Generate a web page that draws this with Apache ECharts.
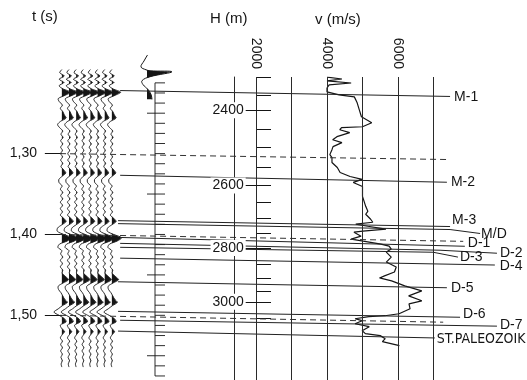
<!DOCTYPE html>
<html><head><meta charset="utf-8">
<script src="https://cdn.jsdelivr.net/npm/echarts@6/dist/echarts.min.js"></script>
<style>html,body{margin:0;padding:0;background:#fff}#c{width:527px;height:380px}</style>
</head><body><div id="c"></div>
<script>
// ================= DATA =================
// time axis (s)
const timeTicks = [1.30, 1.40, 1.50];
// velocity axis (m/s)
const velocityTicks = [2000, 4000, 6000];
const velocityGridLines = [2000, 3000, 4000, 5000, 6000, 7000];
// depth axis (m) and the two-way times at which each depth occurs
const depthLabels = [2400, 2600, 2800, 3000];
const depthLabelTimes = [1.2494, 1.3415, 1.4183, 1.4841];
// 50 m depth ticks (2300 ... 3050 m) in time
const depthMinorTimes = [1.2087, 1.2305, 1.2494, 1.2720, 1.2951, 1.3195, 1.3415, 1.3622,
  1.3817, 1.4000, 1.4183, 1.4378, 1.4549, 1.4707, 1.4841, 1.5049];
// time-scale column next to the wavelet
const scaleTickTimes = [1.2125, 1.225, 1.2375, 1.25, 1.2625, 1.275, 1.2875, 1.30, 1.3125, 1.325,
  1.3375, 1.35, 1.3625, 1.375, 1.3875, 1.40, 1.4125, 1.425, 1.4375, 1.45, 1.4625, 1.475,
  1.4875, 1.50, 1.5125, 1.525, 1.5375, 1.55, 1.5625, 1.575];
const scaleMajorTimes = [1.25, 1.35, 1.45, 1.55];
// velocity log (time s, velocity m/s)
const logTime = [1.2087, 1.2110, 1.2134, 1.2159, 1.2183, 1.2220, 1.2268, 1.2305, 1.2329, 1.2402,
  1.2488, 1.2573, 1.2646, 1.2695, 1.2707, 1.2732, 1.2768, 1.2817, 1.2854, 1.2890,
  1.2939, 1.2976, 1.3037, 1.3073, 1.3134, 1.3195, 1.3256, 1.3305, 1.3341, 1.3378,
  1.3427, 1.3549, 1.3671, 1.3732, 1.3768, 1.3829, 1.3866, 1.3890, 1.3915, 1.3951,
  1.3976, 1.3988, 1.4037, 1.4073, 1.4098, 1.4134, 1.4159, 1.4195, 1.4232, 1.4293,
  1.4354, 1.4415, 1.4476, 1.4524, 1.4549, 1.4585, 1.4646, 1.4707, 1.4768, 1.4829,
  1.4866, 1.4927, 1.4988, 1.5012, 1.5024, 1.5049, 1.5073, 1.5110, 1.5146, 1.5195,
  1.5232, 1.5256, 1.5293, 1.5329, 1.5378];
const logVelocity = [4000, 4420, 4000, 4680, 4060, 4000, 4000, 4340, 4770, 4850,
  4910, 4970, 5260, 5000, 4410, 4360, 4640, 4280, 4160, 4420,
  4170, 4140, 4080, 4140, 4140, 4290, 4370, 4650, 4990, 4740,
  5000, 5000, 5090, 5150, 5090, 5230, 5290, 4810, 5150, 5660,
  5010, 4760, 4960, 4680, 5020, 5520, 5750, 5810, 5670, 5810,
  5670, 5950, 5900, 5620, 5480, 5820, 6190, 6670, 6300, 6670,
  6310, 6340, 6030, 5630, 5180, 4790, 4990, 4790, 5190, 4990,
  5080, 5500, 5640, 5560, 6040];
// seismic trace: sampled every 4 ms from 1.196 s (amplitude in trace spacings)
const TRACE_T0 = 1.196, TRACE_DT = 0.004;
const traceAmp = [0, -0.35, 0.4, -0.45, 0.35, -0.45, 0.2, 1.45, 0.5, -0.6,
  -0.4, 0.1, -0.25, 0.15, 0.4, 0.7, -0.2, -0.7, -0.35, 0.15,
  -0.15, 0.2, -0.2, 0.15, -0.2, 0.1, -0.2, 0.12, -0.2, 0.15,
  -0.15, 0.3, 0.65, 0.05, -0.5, -0.45, 0.05, -0.25, 0.15, -0.2,
  0.15, -0.25, 0.12, -0.25, 0.1, -0.25, 0.3, 0.7, 0.0, -0.7,
  -0.75, 0.3, 1.6, 0.9, -0.4, -0.65, 0.0, -0.2, 0.15, -0.25,
  0.1, -0.25, 0.15, 0.05, 0.6, 1.1, 0.2, -0.6, -0.55, -0.15,
  0.15, 0.45, 0.9, 0.1, -0.6, -1.3, -0.45, 0.4, 0.7, -0.25,
  -0.05, 0.45, 0.05, -0.25, 0.1, -0.2, 0.1, -0.2, 0.08, -0.15,
  0.08, -0.12, 0];
const traceNumbers = [0, 1, 2, 3, 4, 5, 6, 7];
// wavelet
const waveletTime = [1.1780, 1.1854, 1.1927, 1.1963, 1.1976, 1.1988, 1.2049, 1.2098, 1.2146, 1.2207, 1.2268, 1.2329];
const waveletAmp = [0.05, -0.3, -0.6, -0.1, 0.3, 2.5, 0.3, -0.5, -0.4, 0.1, 0.4, 0.5];
// horizons: name, time at section start, time at main end, time at leader end
const horizonNames = ['M-1', 'M-2', 'M-3', 'M/D', 'D-1', 'D-2', 'D-3', 'D-4', 'D-5', 'D-6', 'D-7', 'ST.PALEOZOIK'];
const horizonTimeStart = [1.2220, 1.3268, 1.3829, 1.3866, 1.4037, 1.4110, 1.4159, 1.4293, 1.4585, 1.4951, 1.5061, 1.5195];
const horizonTimeEnd = [1.2293, 1.3354, 1.3902, 1.3939, 1.4146, 1.4195, 1.4220, 1.4378, 1.4659, 1.5024, 1.5134, 1.5280];
const horizonTimeLeader = [null, null, null, 1.3988, null, 1.4232, 1.4280, null, null, null, null, null];
// dashed time lines
const timeLineStart = [1.30, 1.40, 1.50];
const timeLineEnd = [1.3073, 1.4085, 1.5085];

// ================= LAYOUT =================
const FONT = '"Liberation Sans", Arial, Helvetica, sans-serif';
const NARROW = '"Liberation Sans Narrow", "Arial Narrow", "DejaVu Sans Condensed", "Liberation Sans", sans-serif';
const INK = '#151515';
const GRID_TOP = -3.8, GRID_BOTTOM = -1.6;
const T_MIN = 1.11, T_MAX = 1.58;
const PX_PER_S = (380 - GRID_BOTTOM - GRID_TOP) / (T_MAX - T_MIN);
const LOG_TOP = 77;
const LOG_T_MIN = T_MIN + (LOG_TOP - GRID_TOP) / PX_PER_S;
const V_MIN = 1400, V_MAX = 7000, PX_PER_V = 0.0355, V_LEFT = 234.7;
// section x-positions (fraction of width)
const hStart = [0.228, 0.228, 0.224, 0.224, 0.228, 0.228, 0.228, 0.228, 0.224, 0.224, 0.228, 0.224];
const hEnd = [0.854, 0.848, 0.854, 0.854, 0.882, 0.835, 0.822, 0.939, 0.848, 0.873, 0.943, 0.825];
const hLeader = [null, null, null, 0.911, null, 0.943, 0.869, null, null, null, null, null];
const hLabelOffset = [[4, 1], [4, 0], [2, -6], [1, 1], [3, -3], [3, 0], [2, 0], [5, 1], [4, 0], [3, -3], [3, -1], [2, 1]];
const hLabelSize = [14, 14, 14, 14, 14, 14, 14, 14, 14, 14, 14, 14];
const hLabelFont = [FONT, FONT, FONT, FONT, FONT, FONT, FONT, FONT, FONT, FONT, FONT, NARROW];
const tlStart = 0.114, tlEnd = [0.848, 0.879, 0.841];
const TRACE_SCALE = 0.85;

const traceTimes = traceAmp.map((_, k) => TRACE_T0 + k * TRACE_DT);

function wiggle(api, base, times, amps, scale, lw, smooth) {
  const pts = [], polys = [];
  let cur = null;
  for (let k = 0; k < times.length; k++) {
    const a = amps[k];
    const p = api.coord([base + a * scale, times[k]]);
    if (k === 0) {
      if (a > 0) cur = [api.coord([base, times[0]])];
    } else {
      const a0 = amps[k - 1];
      if ((a0 > 0) !== (a > 0)) {
        const f = a0 / (a0 - a);
        const tc = times[k - 1] + f * (times[k] - times[k - 1]);
        const pc = api.coord([base, tc]);
        if (a > 0) cur = [pc];
        else if (cur) { cur.push(pc); polys.push(cur); cur = null; }
      }
    }
    if (a > 0 && cur) cur.push(p);
    pts.push(p);
  }
  if (cur) { cur.push(api.coord([base, times[times.length - 1]])); polys.push(cur); }
  const children = polys.map(pp => ({ type: 'polygon', shape: { points: pp }, style: { fill: INK } }));
  children.push({ type: 'polyline', shape: { points: pts, smooth }, style: { stroke: INK, lineWidth: lw, fill: null } });
  return children;
}

const hiddenX = (grid, min, max) => ({ type: 'value', gridIndex: grid, min, max, show: false });
const hiddenY = (grid, min, max) => ({ type: 'value', gridIndex: grid, min, max, inverse: true, show: false });

const series = [];
// seismic traces
series.push({
  type: 'custom', xAxisIndex: 1, yAxisIndex: 1, silent: true,
  data: traceNumbers.map(n => [n]),
  renderItem: (params, api) => ({ type: 'group', children: wiggle(api, api.value(0), traceTimes, traceAmp, TRACE_SCALE, 0.9, 0.3) })
});
// wavelet
series.push({
  type: 'custom', xAxisIndex: 2, yAxisIndex: 2, silent: true,
  data: [[0]],
  renderItem: (params, api) => ({ type: 'group', children: wiggle(api, 0, waveletTime, waveletAmp, 1, 1, 0.4) })
});
// time-scale column
series.push({
  type: 'line', xAxisIndex: 2, yAxisIndex: 2, silent: true, symbol: 'none',
  data: [[0.8, scaleTickTimes[0]], [0.8, scaleTickTimes[scaleTickTimes.length - 1]]],
  lineStyle: { color: INK, width: 0.9 }
});
series.push({
  type: 'custom', xAxisIndex: 2, yAxisIndex: 2, silent: true,
  data: scaleTickTimes.map(t => [t]),
  renderItem: (params, api) => {
    const t = api.value(0);
    const major = scaleMajorTimes.indexOf(t) >= 0;
    const a = api.coord([major ? 0 : 0.8, t]), b = api.coord([1.8, t]);
    return { type: 'line', shape: { x1: a[0], y1: a[1], x2: b[0], y2: b[1] }, style: { stroke: INK, lineWidth: 0.9 } };
  }
});
// velocity log + vertical grid lines
series.push({
  type: 'line', xAxisIndex: 3, yAxisIndex: 3, silent: true, symbol: 'none',
  data: logTime.map((t, i) => [logVelocity[i], t]),
  lineStyle: { color: INK, width: 1.2 },
  markLine: {
    silent: true, symbol: 'none', label: { show: false },
    lineStyle: { color: '#2a2a2a', width: 1, type: 'solid' },
    data: velocityGridLines.map(v => ({ xAxis: v }))
  }
});
// dashed time lines
timeLineStart.forEach((t, i) => {
  series.push({
    type: 'line', xAxisIndex: 0, yAxisIndex: 0, silent: true, symbol: 'none',
    data: [[tlStart, t], [tlEnd[i], timeLineEnd[i]]],
    lineStyle: { color: '#333', width: 1, type: [6, 4] }
  });
});
// horizons
horizonNames.forEach((name, i) => {
  const d = [[hStart[i], horizonTimeStart[i]], [hEnd[i], horizonTimeEnd[i]]];
  if (horizonTimeLeader[i] !== null) d.push([hLeader[i], horizonTimeLeader[i]]);
  series.push({
    type: 'line', xAxisIndex: 0, yAxisIndex: 0, silent: true, symbol: 'none', name,
    data: d,
    lineStyle: { color: '#222', width: 1 },
    endLabel: {
      show: true, formatter: name, color: INK, fontSize: hLabelSize[i], fontFamily: hLabelFont[i],
      distance: 0, offset: hLabelOffset[i]
    }
  });
});

const option = {
  animation: false,
  backgroundColor: '#fff',
  textStyle: { fontFamily: FONT },
  grid: [
    { left: 0, right: 0, top: GRID_TOP, bottom: GRID_BOTTOM },
    { left: 59, width: 66, top: GRID_TOP, bottom: GRID_BOTTOM },
    { left: 130, width: 50, top: GRID_TOP, bottom: GRID_BOTTOM },
    { left: V_LEFT, width: (V_MAX - V_MIN) * PX_PER_V, top: LOG_TOP, bottom: GRID_BOTTOM }
  ],
  xAxis: [
    hiddenX(0, 0, 1),
    hiddenX(1, -0.4, 8.84),
    hiddenX(2, -1.7, 3.3),
    {
      type: 'value', gridIndex: 3, min: V_MIN, max: V_MAX, position: 'top',
      axisLine: { show: false }, axisTick: { show: false }, splitLine: { show: false },
      axisLabel: { customValues: velocityTicks, rotate: 90, margin: 8, fontSize: 14, color: INK, fontFamily: FONT,
        formatter: v => String(v) }
    }
  ],
  yAxis: [
    hiddenY(0, T_MIN, T_MAX),
    {
      type: 'value', gridIndex: 1, min: T_MIN, max: T_MAX, inverse: true, position: 'left',
      axisLine: { show: false }, splitLine: { show: false },
      axisTick: { show: true, customValues: timeTicks, length: 17, lineStyle: { color: INK, width: 1 } },
      axisLabel: { customValues: timeTicks, margin: 22, fontSize: 14, color: INK, fontFamily: FONT,
        formatter: v => v.toFixed(2).replace('.', ',') }
    },
    hiddenY(2, T_MIN, T_MAX),
    {
      type: 'value', gridIndex: 3, min: LOG_T_MIN, max: T_MAX, inverse: true, position: 'left', z: 10,
      axisLine: { show: true, lineStyle: { color: '#2a2a2a', width: 1 } }, splitLine: { show: false },
      axisTick: { show: true, inside: true, customValues: depthLabelTimes, length: 36, lineStyle: { color: INK, width: 1 } },
      axisLabel: {
        customValues: depthLabelTimes, margin: -11, fontSize: 14, color: INK, fontFamily: FONT,
        backgroundColor: '#fff', padding: [1, 2, 1, 2],
        formatter: v => {
          let best = 0;
          depthLabelTimes.forEach((t, i) => { if (Math.abs(t - v) < Math.abs(depthLabelTimes[best] - v)) best = i; });
          return String(depthLabels[best]);
        }
      }
    },
    {
      type: 'value', gridIndex: 3, min: LOG_T_MIN, max: T_MAX, inverse: true, position: 'left',
      offset: -(256 - V_LEFT),
      axisLine: { show: false }, splitLine: { show: false }, axisLabel: { show: false },
      axisTick: { show: true, inside: true, customValues: depthMinorTimes, length: 15, lineStyle: { color: INK, width: 1 } }
    }
  ],
  graphic: [
    { type: 'text', left: 32, top: 9, style: { text: 't (s)', fontSize: 15, fill: INK, fontFamily: FONT } },
    { type: 'text', left: 210, top: 11, style: { text: 'H (m)', fontSize: 15, fill: INK, fontFamily: FONT } },
    { type: 'text', left: 315, top: 12, style: { text: 'v (m/s)', fontSize: 15, fill: INK, fontFamily: FONT } }
  ],
  series
};
const chart = echarts.init(document.getElementById('c'), null, { renderer: 'canvas' });
chart.setOption(option);
</script></body></html>
